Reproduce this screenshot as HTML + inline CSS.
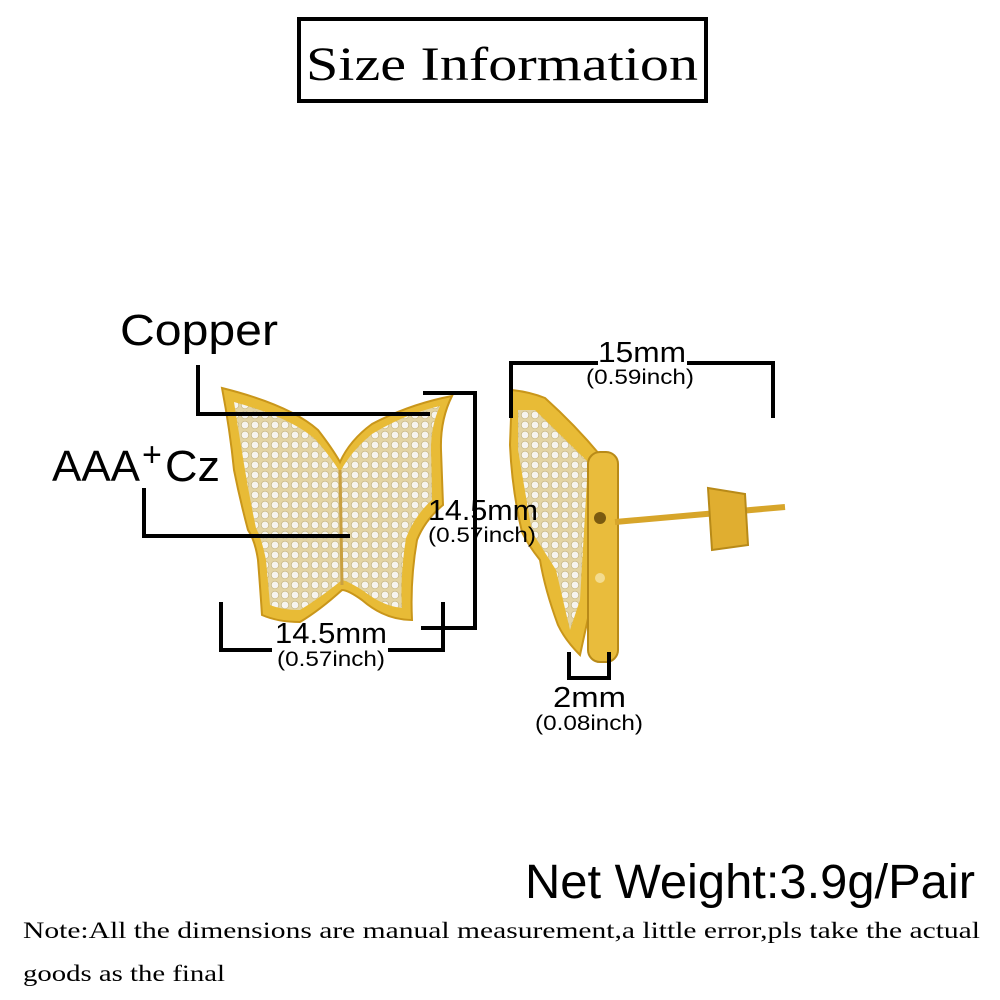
<!DOCTYPE html>
<html><head><meta charset="utf-8"><style>
html,body{margin:0;padding:0;background:#fff;width:1000px;height:1000px;overflow:hidden}
svg{display:block}
.s{font-family:"Liberation Sans",sans-serif}
.r{font-family:"Liberation Serif",serif}
</style></head><body>
<svg width="1000" height="1000" viewBox="0 0 1000 1000" xmlns="http://www.w3.org/2000/svg">
<defs>
<pattern id="gems" width="10" height="10" patternUnits="userSpaceOnUse">
<rect width="10" height="10" fill="#e3d4a4"/>
<circle cx="5" cy="5" r="3.8" fill="#f6f4ee" stroke="#c4b27a" stroke-width="0.7"/>
</pattern>
</defs>
<rect x="299" y="19" width="407" height="82" fill="none" stroke="#000" stroke-width="4"/>
<text x="502" y="80" class="r" font-size="48" text-anchor="middle" textLength="392" lengthAdjust="spacingAndGlyphs">Size Information</text>

<!-- front butterfly -->
<path d="M222,388 Q290,405 318,430 Q332,448 340,462 Q350,440 372,424 Q410,404 452,396 Q440,420 441,450 Q442,480 443,505 Q425,520 417,540 Q410,580 412,620 Q385,620 362,600 Q348,590 342,590 Q320,610 300,622 Q278,622 262,615 Q260,585 258,560 Q255,540 248,530 Q240,500 234,470 Q230,430 222,388 Z" fill="#e8bb36" stroke="#c9961a" stroke-width="2"/>
<path d="M234,402 Q292,418 316,440 Q330,456 340,472 Q352,450 372,434 Q405,414 440,406 Q431,425 431,450 Q432,480 432,500 Q415,515 406,538 Q400,575 402,608 Q383,606 365,592 Q350,582 342,580 Q320,598 300,610 Q282,610 270,605 Q268,582 266,560 Q262,540 256,528 Q250,500 245,470 Q240,440 234,402 Z" fill="url(#gems)"/>
<line x1="340" y1="470" x2="342" y2="585" stroke="#c9a040" stroke-width="3"/>

<!-- side earring -->
<path d="M512,390 Q530,392 545,398 Q575,425 600,455 L592,600 L580,655 Q565,640 558,625 Q545,590 540,560 Q528,545 522,532 Q512,490 510,445 Z" fill="#e8bb36" stroke="#c9961a" stroke-width="2"/>
<path d="M518,410 L535,410 L588,462 L580,600 L570,630 L556,570 L532,532 L518,450 Z" fill="url(#gems)"/>
<rect x="588" y="452" width="30" height="210" rx="12" fill="#e9bc3c" stroke="#b88a18" stroke-width="2"/>
<circle cx="600" cy="518" r="6" fill="#7a5a10"/>
<circle cx="600" cy="578" r="5" fill="#f3dc90"/>
<line x1="615" y1="522" x2="785" y2="507" stroke="#d7a52a" stroke-width="6"/>
<path d="M708,488 L745,494 L748,545 L712,550 Z" fill="#e0ae30" stroke="#b88a18" stroke-width="2"/>

<g stroke="#000" stroke-width="4" fill="none">
<polyline points="198,365 198,414 430,414"/>
<polyline points="144,488 144,536 350,536"/>
<polyline points="423,393 475,393 475,628 421,628"/>
<polyline points="221,602 221,650 272,650"/>
<polyline points="388,650 443,650 443,602"/>
<polyline points="511,418 511,363 598,363"/>
<polyline points="687,363 773,363 773,418"/>
<polyline points="569,652 569,678 609,678 609,652"/>
</g>

<g class="s" fill="#000">
<text x="120" y="345" font-size="44" textLength="158" lengthAdjust="spacingAndGlyphs">Copper</text>
<text x="52" y="481" font-size="44" textLength="88" lengthAdjust="spacingAndGlyphs">AAA</text>
<text x="142" y="466" font-size="34">+</text>
<text x="165" y="481" font-size="44" textLength="55" lengthAdjust="spacingAndGlyphs">Cz</text>
<text x="428" y="520" font-size="29" textLength="110" lengthAdjust="spacingAndGlyphs">14.5mm</text>
<text x="428" y="542" font-size="21" textLength="108" lengthAdjust="spacingAndGlyphs">(0.57inch)</text>
<text x="275" y="643" font-size="29" textLength="112" lengthAdjust="spacingAndGlyphs">14.5mm</text>
<text x="277" y="666" font-size="21" textLength="108" lengthAdjust="spacingAndGlyphs">(0.57inch)</text>
<text x="598" y="362" font-size="29" textLength="88" lengthAdjust="spacingAndGlyphs">15mm</text>
<text x="586" y="384" font-size="21" textLength="108" lengthAdjust="spacingAndGlyphs">(0.59inch)</text>
<text x="553" y="707" font-size="29" textLength="73" lengthAdjust="spacingAndGlyphs">2mm</text>
<text x="535" y="730" font-size="21" textLength="108" lengthAdjust="spacingAndGlyphs">(0.08inch)</text>
<text x="975" y="898" font-size="48" text-anchor="end" textLength="450" lengthAdjust="spacingAndGlyphs">Net Weight:3.9g/Pair</text>
</g>
<g class="r" fill="#000" font-size="23">
<text x="23" y="938" textLength="957" lengthAdjust="spacingAndGlyphs">Note:All the dimensions are manual measurement,a little error,pls take the actual</text>
<text x="23" y="981" textLength="202" lengthAdjust="spacingAndGlyphs">goods as the final</text>
</g>
</svg>
</body></html>
